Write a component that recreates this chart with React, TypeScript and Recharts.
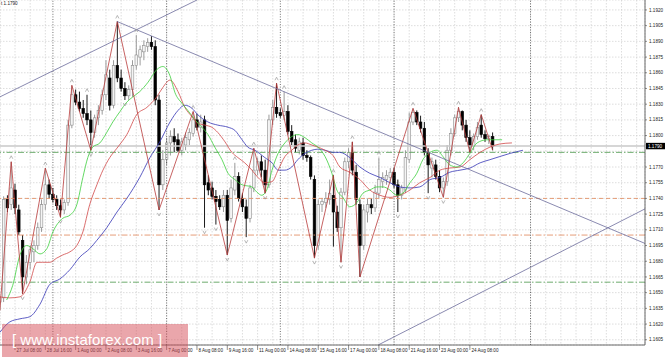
import React from 'react';
import { ComposedChart, Bar, Line, Scatter, XAxis, YAxis, CartesianGrid, ReferenceLine } from 'recharts';

const FONT = '"Liberation Sans", Arial, sans-serif';

// H4 bars, [open, high, low, close]; bar 0 = 26 Jul 20:00
const ohlc: [number, number, number, number][] = [
  [1.1641, 1.1647, 1.1633, 1.1645], [1.1645, 1.1742, 1.1641, 1.1739], [1.1739, 1.1743, 1.1727, 1.1731],
  [1.1734, 1.1775, 1.1729, 1.1750], [1.1748, 1.1754, 1.1725, 1.1731], [1.1729, 1.1734, 1.1705, 1.1708],
  [1.1700, 1.1705, 1.1649, 1.1665], [1.1665, 1.1686, 1.1658, 1.1679], [1.1679, 1.1695, 1.1672, 1.1691],
  [1.1689, 1.1700, 1.1679, 1.1695], [1.1695, 1.1717, 1.1691, 1.1712], [1.1712, 1.1739, 1.1708, 1.1734],
  [1.1734, 1.1769, 1.1729, 1.1753], [1.1753, 1.1758, 1.1740, 1.1744], [1.1744, 1.1750, 1.1736, 1.1739],
  [1.1739, 1.1743, 1.1729, 1.1733], [1.1733, 1.1739, 1.1722, 1.1729], [1.1729, 1.1739, 1.1725, 1.1736],
  [1.1736, 1.1815, 1.1733, 1.1810], [1.1810, 1.1848, 1.1807, 1.1839], [1.1839, 1.1844, 1.1829, 1.1832],
  [1.1832, 1.1842, 1.1823, 1.1826], [1.1826, 1.1834, 1.1817, 1.1821], [1.1821, 1.1839, 1.1810, 1.1815],
  [1.1815, 1.1824, 1.1786, 1.1803], [1.1803, 1.1820, 1.1798, 1.1817], [1.1817, 1.1829, 1.1810, 1.1824],
  [1.1824, 1.1844, 1.1820, 1.1839], [1.1839, 1.1872, 1.1834, 1.1858], [1.1855, 1.1863, 1.1824, 1.1829],
  [1.1829, 1.1872, 1.1826, 1.1867], [1.1867, 1.1909, 1.1851, 1.1855], [1.1855, 1.1863, 1.1842, 1.1845],
  [1.1845, 1.1851, 1.1834, 1.1838], [1.1838, 1.1848, 1.1834, 1.1844], [1.1844, 1.1872, 1.1837, 1.1867],
  [1.1867, 1.1896, 1.1863, 1.1877], [1.1875, 1.1886, 1.1867, 1.1882], [1.1880, 1.1891, 1.1872, 1.1886],
  [1.1885, 1.1893, 1.1880, 1.1889], [1.1889, 1.1895, 1.1882, 1.1885], [1.1885, 1.1891, 1.1829, 1.1834],
  [1.1834, 1.1839, 1.1729, 1.1753], [1.1753, 1.1786, 1.1748, 1.1777], [1.1777, 1.1798, 1.1772, 1.1793],
  [1.1793, 1.1805, 1.1781, 1.1799], [1.1799, 1.1807, 1.1784, 1.1794], [1.1796, 1.1802, 1.1784, 1.1786],
  [1.1786, 1.1798, 1.1781, 1.1794], [1.1791, 1.1803, 1.1786, 1.1798], [1.1796, 1.1807, 1.1791, 1.1803],
  [1.1802, 1.1823, 1.1799, 1.1815], [1.1815, 1.1821, 1.1805, 1.1808], [1.1808, 1.1820, 1.1803, 1.1813],
  [1.1815, 1.1819, 1.1712, 1.1753], [1.1755, 1.1762, 1.1743, 1.1748], [1.1750, 1.1756, 1.1739, 1.1742],
  [1.1742, 1.1748, 1.1715, 1.1737], [1.1739, 1.1743, 1.1729, 1.1732], [1.1732, 1.1748, 1.1727, 1.1743],
  [1.1743, 1.1748, 1.1686, 1.1719], [1.1721, 1.1758, 1.1717, 1.1750], [1.1748, 1.1774, 1.1743, 1.1761],
  [1.1761, 1.1765, 1.1737, 1.1740], [1.1740, 1.1745, 1.1727, 1.1732], [1.1732, 1.1739, 1.1703, 1.1721],
  [1.1721, 1.1753, 1.1717, 1.1750], [1.1750, 1.1788, 1.1746, 1.1767], [1.1767, 1.1779, 1.1762, 1.1775],
  [1.1775, 1.1781, 1.1760, 1.1767], [1.1767, 1.1777, 1.1745, 1.1753], [1.1753, 1.1820, 1.1750, 1.1815],
  [1.1815, 1.1834, 1.1810, 1.1827], [1.1827, 1.1850, 1.1817, 1.1821], [1.1822, 1.1826, 1.1817, 1.1819],
  [1.1819, 1.1842, 1.1815, 1.1823], [1.1823, 1.1829, 1.1801, 1.1804], [1.1804, 1.1810, 1.1791, 1.1794],
  [1.1796, 1.1801, 1.1784, 1.1788], [1.1786, 1.1798, 1.1782, 1.1794], [1.1793, 1.1798, 1.1777, 1.1781],
  [1.1781, 1.1786, 1.1775, 1.1779], [1.1779, 1.1781, 1.1758, 1.1761], [1.1758, 1.1762, 1.1683, 1.1695],
  [1.1695, 1.1739, 1.1691, 1.1734], [1.1734, 1.1740, 1.1727, 1.1737], [1.1736, 1.1746, 1.1731, 1.1740],
  [1.1739, 1.1758, 1.1734, 1.1745], [1.1743, 1.1762, 1.1694, 1.1727], [1.1727, 1.1733, 1.1708, 1.1712],
  [1.1712, 1.1750, 1.1679, 1.1746], [1.1746, 1.1779, 1.1743, 1.1775], [1.1775, 1.1788, 1.1769, 1.1784],
  [1.1784, 1.1794, 1.1762, 1.1767], [1.1765, 1.1772, 1.1734, 1.1739], [1.1734, 1.1739, 1.1665, 1.1695],
  [1.1695, 1.1734, 1.1691, 1.1729], [1.1727, 1.1740, 1.1717, 1.1734], [1.1734, 1.1740, 1.1725, 1.1731],
  [1.1731, 1.1753, 1.1727, 1.1746], [1.1745, 1.1779, 1.1740, 1.1758], [1.1756, 1.1765, 1.1750, 1.1760],
  [1.1758, 1.1767, 1.1753, 1.1762], [1.1760, 1.1769, 1.1755, 1.1765], [1.1765, 1.1769, 1.1750, 1.1753],
  [1.1753, 1.1758, 1.1727, 1.1743], [1.1743, 1.1753, 1.1739, 1.1750], [1.1748, 1.1786, 1.1745, 1.1779],
  [1.1777, 1.1822, 1.1774, 1.1813], [1.1813, 1.1826, 1.1810, 1.1822], [1.1822, 1.1824, 1.1810, 1.1813],
  [1.1813, 1.1819, 1.1803, 1.1807], [1.1807, 1.1813, 1.1781, 1.1784], [1.1784, 1.1788, 1.1745, 1.1772],
  [1.1769, 1.1779, 1.1760, 1.1775], [1.1772, 1.1777, 1.1758, 1.1761], [1.1761, 1.1767, 1.1746, 1.1750],
  [1.1750, 1.1760, 1.1741, 1.1756], [1.1756, 1.1791, 1.1752, 1.1786], [1.1786, 1.1807, 1.1781, 1.1802],
  [1.1802, 1.1820, 1.1799, 1.1817], [1.1817, 1.1827, 1.1813, 1.1823], [1.1823, 1.1824, 1.1805, 1.1810],
  [1.1810, 1.1815, 1.1794, 1.1798], [1.1798, 1.1805, 1.1784, 1.1790], [1.1790, 1.1802, 1.1786, 1.1799],
  [1.1799, 1.1813, 1.1796, 1.1808], [1.1810, 1.1820, 1.1798, 1.1801], [1.1801, 1.1805, 1.1794, 1.1797],
  [1.1797, 1.1801, 1.1792, 1.1799], [1.1799, 1.1803, 1.1786, 1.1790],
];

const xLabels: [number, string][] = [
  [4, '27 Jul 08:00'], [12, '28 Jul 16:00'], [20, '1 Aug 00:00'], [28, '2 Aug 08:00'],
  [36, '3 Aug 16:00'], [44, '7 Aug 00:00'], [52, '8 Aug 08:00'], [60, '9 Aug 16:00'],
  [68, '11 Aug 00:00'], [76, '14 Aug 08:00'], [84, '15 Aug 16:00'], [92, '17 Aug 00:00'],
  [100, '18 Aug 08:00'], [108, '21 Aug 16:00'], [116, '23 Aug 00:00'], [124, '24 Aug 08:00'],
];

const gridBars = [0, 4, 8, 12, 16, 20, 24, 28, 32, 36, 40, 44, 48, 52, 56, 60, 64, 68, 72, 76, 80, 84, 88,
  92, 96, 100, 104, 108, 112, 116, 120, 124, 128, 132, 136, 140, 144, 148, 152, 156, 160, 164, 168];

const yTicks = [1.1605, 1.1620, 1.1635, 1.1650, 1.1665, 1.1680, 1.1695, 1.1710, 1.1725, 1.1740, 1.1755,
  1.1770, 1.1785, 1.1800, 1.1815, 1.1830, 1.1845, 1.1860, 1.1875, 1.1890, 1.1905, 1.1920];

// Alligator lines [bar, price]
const lips: [number, number][] = [
  [1.8, 1.1643], [3.4, 1.1657], [5.3, 1.1686], [7.1, 1.1695], [8.7, 1.1692], [10.6, 1.1687], [12.4, 1.1692],
  [14.0, 1.1708], [16.6, 1.1721], [18.5, 1.1724], [20.3, 1.1734], [21.9, 1.1760], [23.2, 1.1779], [24.5, 1.1789],
  [26.4, 1.1793], [28.2, 1.1803], [29.8, 1.1813], [31.7, 1.1823], [33.5, 1.1832], [35.1, 1.1837], [36.9, 1.1842],
  [39.1, 1.1851], [41.4, 1.1863], [43.0, 1.1866], [44.9, 1.1857], [46.2, 1.1841], [48.0, 1.1831], [49.6, 1.1824],
  [51.5, 1.1815], [53.3, 1.1808], [54.9, 1.1801], [56.7, 1.1789], [58.6, 1.1777], [60.2, 1.1764], [62.0, 1.1758],
  [63.9, 1.1753], [66.5, 1.1751], [67.8, 1.1746], [69.1, 1.1743], [70.4, 1.1748], [71.8, 1.1767], [73.4, 1.1783],
  [75.2, 1.1793], [77.0, 1.1799], [78.6, 1.1801], [80.5, 1.1798], [82.3, 1.1793], [83.9, 1.1789], [85.8, 1.1780],
  [87.6, 1.1764], [88.9, 1.1748], [90.5, 1.1741], [92.3, 1.1732], [94.2, 1.1736], [95.8, 1.1745], [97.6, 1.1748],
  [99.5, 1.1751], [101.1, 1.1751], [102.9, 1.1748], [104.7, 1.1743], [106.3, 1.1745], [108.2, 1.1755],
  [110.0, 1.1764], [111.6, 1.1777], [113.5, 1.1784], [115.3, 1.1786], [116.9, 1.1780], [118.7, 1.1772],
  [120.6, 1.1770], [122.2, 1.1774], [124.0, 1.1783], [125.9, 1.1793], [128.5, 1.1796], [132.5, 1.1796],
];
const teeth: [number, number][] = [
  [0, 1.1646], [2.6, 1.1645], [5.3, 1.1646], [7.9, 1.1660], [9.8, 1.1679], [11.3, 1.1679], [13.2, 1.1679],
  [15.0, 1.1683], [16.6, 1.1686], [18.5, 1.1689], [20.3, 1.1695], [21.9, 1.1708], [23.7, 1.1734], [25.6, 1.1753],
  [27.2, 1.1767], [29.0, 1.1779], [30.9, 1.1788], [33.5, 1.1801], [36.1, 1.1820], [38.8, 1.1827], [41.4, 1.1837],
  [43.0, 1.1846], [44.9, 1.1853], [47.0, 1.1842], [48.8, 1.1827], [50.7, 1.1818], [52.2, 1.1812], [54.1, 1.1810],
  [55.9, 1.1808], [57.5, 1.1803], [59.4, 1.1794], [61.2, 1.1784], [62.8, 1.1779], [64.6, 1.1774], [66.5, 1.1767],
  [68.1, 1.1760], [69.9, 1.1755], [71.8, 1.1756], [73.4, 1.1767], [75.2, 1.1780], [77.0, 1.1786], [78.6, 1.1791],
  [80.5, 1.1793], [82.3, 1.1791], [83.9, 1.1789], [85.8, 1.1786], [87.9, 1.1781], [89.7, 1.1770], [92.3, 1.1765],
  [95.0, 1.1758], [97.6, 1.1748], [100.3, 1.1743], [102.9, 1.1741], [105.5, 1.1743], [108.2, 1.1748],
  [110.8, 1.1755], [113.5, 1.1760], [116.1, 1.1767], [118.7, 1.1769], [121.4, 1.1770], [124.0, 1.1777],
  [126.7, 1.1784], [129.3, 1.1789], [131.9, 1.1792], [135.1, 1.1793],
];
const jaw: [number, number][] = [
  [0, 1.1612], [2.6, 1.1622], [5.3, 1.1625], [7.9, 1.1627], [10.6, 1.1639], [13.2, 1.1658], [15.8, 1.1663],
  [18.5, 1.1672], [21.1, 1.1684], [23.7, 1.1692], [25.6, 1.1700], [28.2, 1.1712], [30.9, 1.1727], [33.5, 1.1740],
  [36.9, 1.1760], [39.6, 1.1779], [42.2, 1.1794], [44.9, 1.1813], [47.0, 1.1824], [48.8, 1.1829], [50.7, 1.1826],
  [52.2, 1.1820], [54.9, 1.1813], [57.5, 1.1810], [60.2, 1.1808], [62.0, 1.1805], [63.9, 1.1796], [65.4, 1.1789],
  [67.3, 1.1786], [69.9, 1.1779], [71.8, 1.1774], [73.4, 1.1767], [75.2, 1.1767], [77.0, 1.1770], [78.6, 1.1777],
  [80.5, 1.1783], [82.3, 1.1786], [83.9, 1.1787], [85.8, 1.1786], [87.9, 1.1784], [89.7, 1.1784], [92.3, 1.1779],
  [95.0, 1.1770], [97.6, 1.1764], [100.3, 1.1760], [102.9, 1.1755], [105.5, 1.1751], [108.2, 1.1750],
  [110.8, 1.1751], [113.5, 1.1758], [116.1, 1.1760], [118.7, 1.1765], [121.4, 1.1767], [124.0, 1.1769],
  [126.7, 1.1774], [129.3, 1.1777], [131.9, 1.1780], [134.6, 1.1783], [138.0, 1.1786],
];

const zigzag: [number, number][] = [
  [0, 1.1633], [3, 1.1775], [6, 1.1649], [12, 1.1769], [16, 1.1722], [19, 1.1848], [24, 1.1786], [31, 1.1909],
  [42, 1.1729], [51, 1.1823], [60, 1.1686], [67, 1.1788], [70, 1.1745], [73, 1.1850], [83, 1.1683], [88, 1.1762],
  [90, 1.1679], [93, 1.1794], [95, 1.1665], [109, 1.1826], [117, 1.1741], [121, 1.1827], [124, 1.1784],
  [127, 1.1820], [130, 1.1786],
];

const fractalUp = [3, 12, 19, 23, 31, 36, 51, 62, 67, 73, 75, 88, 93, 100, 109, 121, 127];
const fractalDown = [6, 16, 24, 33, 42, 54, 57, 60, 65, 70, 83, 90, 95, 105, 113, 117, 124];

const weekSeparators = [14, 44, 74, 104, 140];
const bidPrice = 1.1790;
const greenLevels = [1.1784, 1.1660];
const orangeDashed = [1.1740];
const orangeDashDot = [1.1705];
const trendLines: [number, number][][] = [
  [[0.04, 1.1837], [52.0, 1.19295]],
  [[30.9, 1.1909], [170.2, 1.1697]],
  [[99.8, 1.1600], [170.2, 1.1730]],
];

const candles = ohlc.map(([o, h, l, c], i) => ({ x: i, o, h, l, c }));
const toXY = (arr: [number, number][]) => arr.map(([x, y]) => ({ x, y }));
const labelMap = new Map<number, string>(xLabels);

const Candle = (props: any) => {
  const { x, y, width, height, payload } = props;
  if (!payload || y == null || height == null) return <g />;
  const top = Math.min(y, y + height);
  const span = Math.abs(height);
  const { o, h, l, c } = payload;
  const rng = h - l;
  const toY = (v: number) => (rng > 0 ? top + ((h - v) / rng) * span : top);
  const cx = x + width / 2;
  const up = c >= o;
  const bTop = toY(Math.max(o, c));
  const bBot = toY(Math.min(o, c));
  const bh = Math.max(bBot - bTop, 0.8);
  const col = up ? '#8e8e8e' : '#000';
  return (
    <g>
      <line x1={cx} x2={cx} y1={top} y2={top + span} stroke={col} strokeWidth={0.9} />
      <rect x={cx - 1.3} y={bTop} width={2.6} height={bh} fill={up ? '#f4f4f4' : '#000'} stroke={col} strokeWidth={0.6} />
    </g>
  );
};

const FractalUpShape = (p: any) => (
  <path d={`M${p.cx - 1.6},${p.cy - 3} L${p.cx},${p.cy - 6} L${p.cx + 1.6},${p.cy - 3}`} fill="none" stroke="#9a9a9a" strokeWidth={0.7} />
);
const FractalDownShape = (p: any) => (
  <path d={`M${p.cx - 1.6},${p.cy + 3} L${p.cx},${p.cy + 6} L${p.cx + 1.6},${p.cy + 3}`} fill="none" stroke="#9a9a9a" strokeWidth={0.7} />
);

const XTick = (props: any) => {
  const { x, y, payload } = props;
  const lab = labelMap.get(payload.value);
  if (!lab) return <g />;
  return (
    <g>
      <line x1={x} x2={x} y1={y} y2={y + 5} stroke="#444" strokeWidth={0.6} />
      <text x={x + 1.5} y={y + 6.8} fontSize={4.6} fontFamily={FONT} fill="#222">{lab}</text>
    </g>
  );
};

const YTick = (props: any) => {
  const { x, y, payload } = props;
  if (Math.abs(payload.value - bidPrice) < 0.0007) return <g />;
  return (
    <g>
      <line x1={x} x2={x + 2} y1={y} y2={y} stroke="#444" strokeWidth={0.6} />
      <text x={x + 4} y={y + 1.6} fontSize={4.6} fontFamily={FONT} fill="#222">{payload.value.toFixed(4)}</text>
    </g>
  );
};

const PriceTag = (props: any) => {
  const vb = props.viewBox || {};
  const right = (vb.x || 0) + (vb.width || 0);
  const yy = vb.y || 0;
  return (
    <g>
      <rect x={right + 1} y={yy - 3.2} width={19} height={6.4} fill="#000" />
      <text x={right + 3} y={yy + 1.7} fontSize={4.6} fontFamily={FONT} fill="#fff">{bidPrice.toFixed(4)}</text>
    </g>
  );
};

export default function App() {
  const fUp = fractalUp.map((i) => ({ x: i, y: ohlc[i][1] }));
  const fDn = fractalDown.map((i) => ({ x: i, y: ohlc[i][2] }));
  return (
    <div style={{ position: 'absolute', left: 0, top: 0, width: 665, height: 357, background: '#fff', overflow: 'hidden' }}>
      <ComposedChart width={665} height={357} data={candles} margin={{ top: 0, right: 0, bottom: 0, left: 0 }}>
        <CartesianGrid stroke="#cfcfcf" strokeDasharray="1.5 1.5" strokeWidth={0.7} />
        <XAxis dataKey="x" type="number" domain={[0.04, 170.2]} allowDataOverflow ticks={gridBars} interval={0}
          tick={<XTick />} tickLine={false} tickSize={0} tickMargin={0} height={12} axisLine={{ stroke: '#444', strokeWidth: 0.8 }} />
        <YAxis orientation="right" type="number" domain={[1.16, 1.19295]} allowDataOverflow ticks={yTicks} interval={0}
          tick={<YTick />} tickLine={false} tickSize={0} tickMargin={0} width={20} axisLine={{ stroke: '#444', strokeWidth: 0.8 }} />
        {weekSeparators.map((b) => (
          <ReferenceLine key={'s' + b} x={b} stroke="#333" strokeDasharray="1 1.6" strokeWidth={0.7} />
        ))}
        <ReferenceLine y={bidPrice} stroke="#c9c9c9" strokeWidth={1.6} label={<PriceTag />} />
        {greenLevels.map((p) => (
          <ReferenceLine key={'g' + p} y={p} stroke="#5ca35c" strokeDasharray="6 2 1.5 2" strokeWidth={0.9} />
        ))}
        {orangeDashed.map((p) => (
          <ReferenceLine key={'o' + p} y={p} stroke="#e3936a" strokeDasharray="4 3" strokeWidth={0.9} />
        ))}
        {orangeDashDot.map((p) => (
          <ReferenceLine key={'od' + p} y={p} stroke="#e3936a" strokeDasharray="6 2 1.5 2" strokeWidth={0.9} />
        ))}
        <Bar dataKey={(d: any) => [d.l, d.h]} barSize={3} shape={<Candle />} isAnimationActive={false} />
        <Line data={toXY(jaw)} dataKey="y" type="monotone" stroke="#3535b5" strokeWidth={0.8} dot={false} activeDot={false} isAnimationActive={false} />
        <Line data={toXY(teeth)} dataKey="y" type="monotone" stroke="#d04848" strokeWidth={0.8} dot={false} activeDot={false} isAnimationActive={false} />
        <Line data={toXY(lips)} dataKey="y" type="monotone" stroke="#3ccf3c" strokeWidth={0.8} dot={false} activeDot={false} isAnimationActive={false} />
        <Line data={toXY(zigzag)} dataKey="y" type="linear" stroke="#b83a3a" strokeWidth={0.8} dot={false} activeDot={false} isAnimationActive={false} />
        {trendLines.map((seg, k) => (
          <ReferenceLine key={'t' + k} segment={seg.map(([x, y]) => ({ x, y }))} stroke="#6c6c9c" strokeWidth={0.8} ifOverflow="visible" />
        ))}
        <Scatter data={fUp} dataKey="y" shape={<FractalUpShape />} activeShape={<FractalUpShape />} isAnimationActive={false} />
        <Scatter data={fDn} dataKey="y" shape={<FractalDownShape />} activeShape={<FractalDownShape />} isAnimationActive={false} />
      </ComposedChart>
      <svg width={665} height={357} style={{ position: 'absolute', left: 0, top: 0, pointerEvents: 'none' }}>
        <text x={1} y={5} fontSize={4.6} fontFamily={FONT} fill="#222">t 1.1790</text>
        <rect x={2} y={324} width={186} height={33} fill="rgba(214, 78, 88, 0.5)" />
        <text x={12} y={345} fontSize={15} fontFamily={FONT} fill="#fff">[ www.instaforex.com ]</text>
      </svg>
    </div>
  );
}
